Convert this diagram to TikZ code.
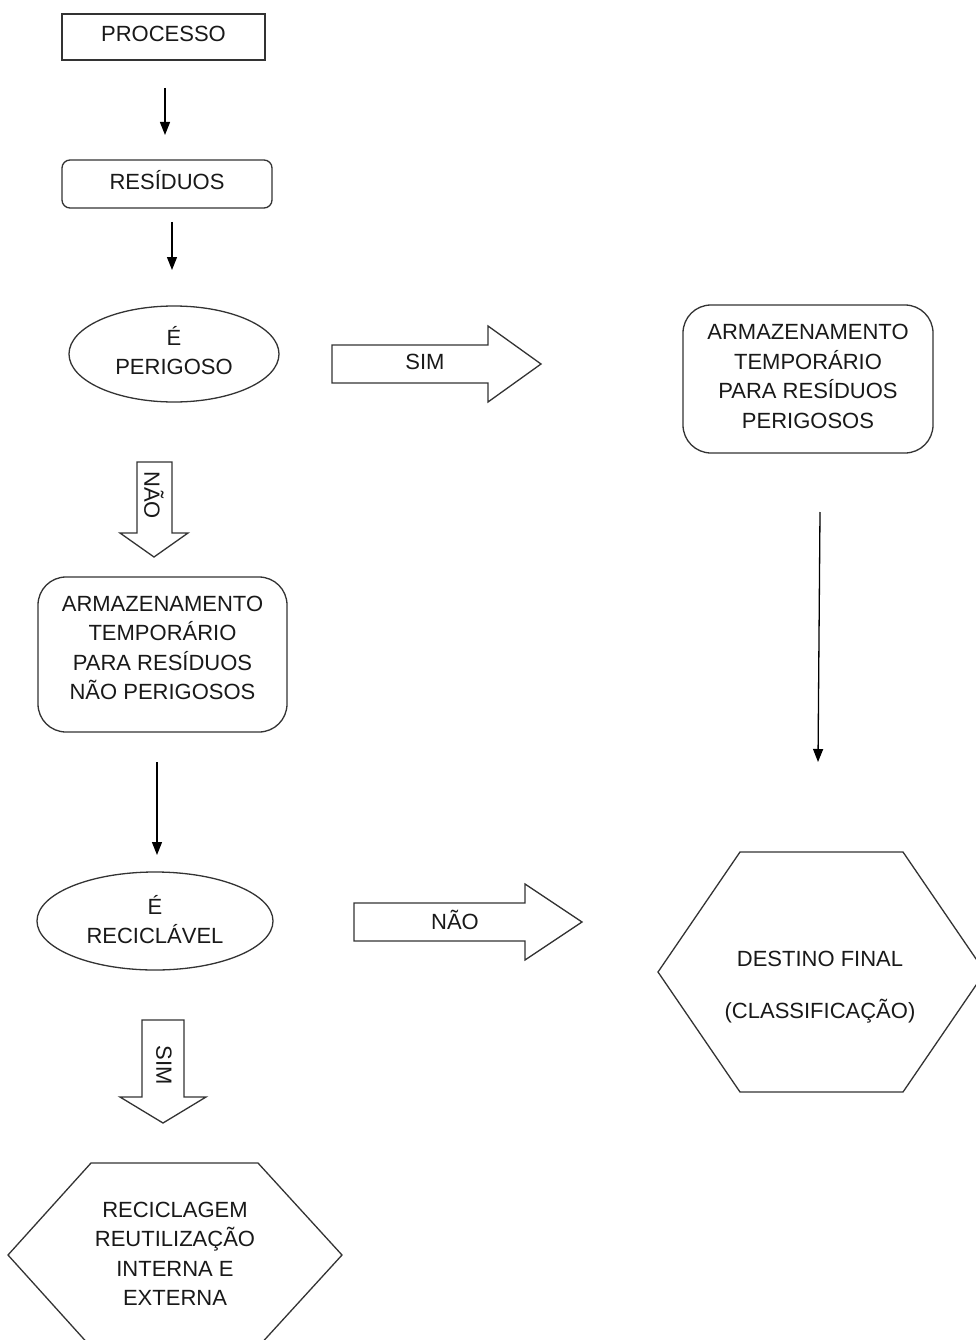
\documentclass[tikz,border=0pt]{standalone}
\usepackage{fontspec}
\setmainfont{Liberation Sans}
\usetikzlibrary{arrows.meta,shapes.geometric}
\newcommand\liftup[2]{\raisebox{#1}[\height][\depth]{\begin{tabular}{@{}c@{}}#2\end{tabular}}}
\tikzset{
  ln/.style={draw=black!80, line width=1.3pt},
  txt/.style={font=\fontsize{22}{29.5}\selectfont, align=center, text=black!90},
  arr/.style={draw=black, line width=1.3pt, -{Triangle[width=10pt,length=13pt]}},
  boxnode/.style={ln, txt, rectangle, inner sep=0pt},
  ellnode/.style={ln, txt, ellipse, inner sep=0pt},
  blockarrow/.style={ln, fill=white, line join=miter},
}
\begin{document}
\begin{tikzpicture}[x=1pt,y=-1pt]
\useasboundingbox[fill=white] (0,0) rectangle (976,1340);

% boxes
\node[boxnode, minimum width=203pt, minimum height=46pt] (proc) at (163.5,37) {\liftup{1pt}{PROCESSO}};
\node[boxnode, rounded corners=8pt, minimum width=210pt, minimum height=48pt] (res) at (167,184) {\liftup{0pt}{RESÍDUOS}};
\node[ellnode, minimum width=210pt, minimum height=96pt] (perig) at (174,354) {\liftup{0pt}{É\\PERIGOSO}};
\node[boxnode, rounded corners=28pt, minimum width=250pt, minimum height=148pt] (armP) at (808,379) {\liftup{1pt}{ARMAZENAMENTO\\TEMPORÁRIO\\PARA RESÍDUOS\\PERIGOSOS}};
\node[boxnode, rounded corners=28pt, minimum width=249pt, minimum height=155pt] (armN) at (162.5,654.5) {\liftup{5pt}{ARMAZENAMENTO\\TEMPORÁRIO\\PARA RESÍDUOS\\NÃO PERIGOSOS}};
\node[ellnode, minimum width=236pt, minimum height=98pt] (recic) at (155,921) {\liftup{-2pt}{É\\RECICLÁVEL}};

% hexagons
\draw[ln, line join=miter] (740,852) -- (903,852) -- (985,972) -- (903,1092) -- (740,1092) -- (658,972) -- cycle;
\node[txt] (dest) at (820,987) {DESTINO FINAL\\[23pt](CLASSIFICAÇÃO)};
\draw[ln, line join=miter] (91,1163) -- (258,1163) -- (342,1255) -- (258,1347) -- (91,1347) -- (8,1255) -- cycle;
\node[txt] (recl) at (175,1254) {RECICLAGEM\\REUTILIZAÇÃO\\INTERNA E\\EXTERNA};

% thin arrows
\coordinate (a1s) at (165,88);  \coordinate (a1e) at (165,135);
\coordinate (a2s) at (172,222); \coordinate (a2e) at (172,270);
\coordinate (a3s) at (157,762); \coordinate (a3e) at (157,855);
\coordinate (a4s) at (820,512); \coordinate (a4e) at (818,762);
\draw[arr] (a1s) -- (a1e);
\draw[arr] (a2s) -- (a2e);
\draw[arr] (a3s) -- (a3e);
\draw[arr] (a4s) -- (a4e);

% block arrows
\draw[blockarrow] (332,345) -- (488,345) -- (488,326) -- (541,364) -- (488,402) -- (488,383) -- (332,383) -- cycle;
\node[txt] (simA) at (425,362) {SIM};
\draw[blockarrow] (354,903) -- (525,903) -- (525,884) -- (582,922) -- (525,960) -- (525,941) -- (354,941) -- cycle;
\node[txt] (naoB) at (455,920) {NÃO};
\draw[blockarrow] (137,462) -- (172,462) -- (172,533) -- (188,533) -- (154,557) -- (120,533) -- (137,533) -- cycle;
\node[txt, rotate=-90] (naoA) at (154,495) {NÃO};
\draw[blockarrow] (142,1020) -- (184,1020) -- (184,1097) -- (206,1097) -- (163,1123) -- (120,1097) -- (142,1097) -- cycle;
\node[txt, rotate=-90] (simB) at (164,1065) {SIM};
\end{tikzpicture}
\end{document}
